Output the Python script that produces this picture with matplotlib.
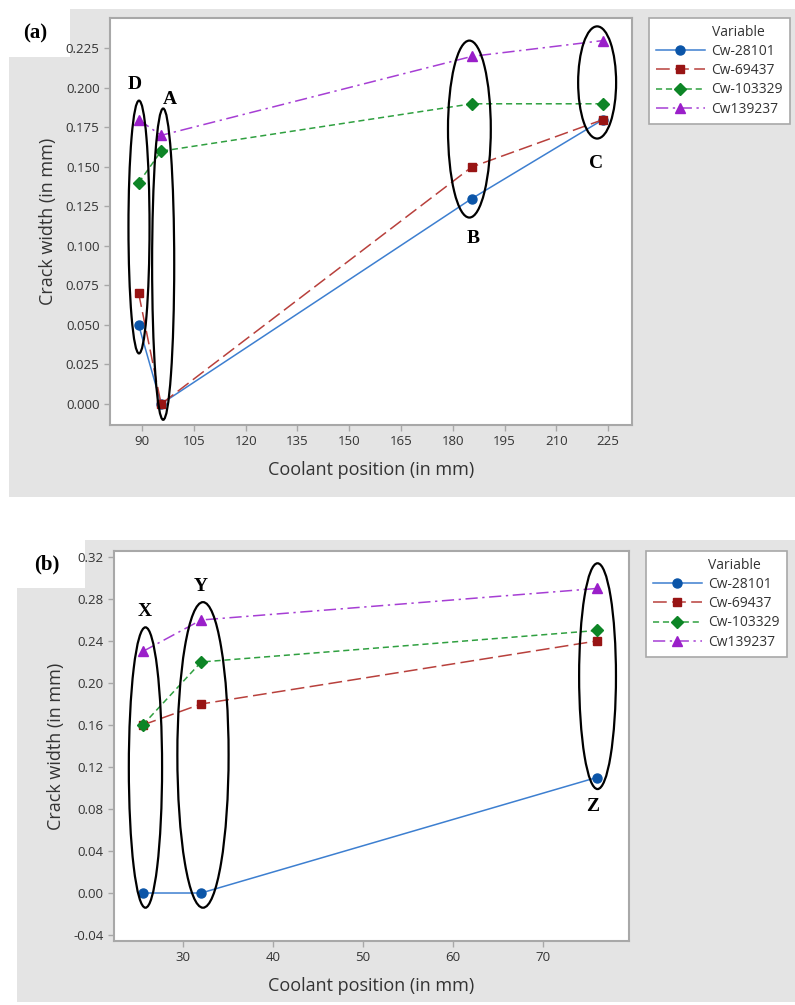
import numpy as np
import matplotlib
matplotlib.use('Agg')
import matplotlib.pyplot as plt
from matplotlib.patches import Ellipse, Rectangle
from matplotlib.lines import Line2D

plt.rcParams['font.family'] = ['Open Sans', 'DejaVu Sans']

# ---- data ----
series = ['Cw-28101', 'Cw-69437', 'Cw-103329', 'Cw139237']

pos_a = [89, 95.5, 185.5, 223.5]
cw_a = {
    'Cw-28101':  [0.05, 0.00, 0.13, 0.18],
    'Cw-69437':  [0.07, 0.00, 0.15, 0.18],
    'Cw-103329': [0.14, 0.16, 0.19, 0.19],
    'Cw139237':  [0.18, 0.17, 0.22, 0.23],
}

pos_b = [25.5, 32, 76]
cw_b = {
    'Cw-28101':  [0.00, 0.00, 0.11],
    'Cw-69437':  [0.16, 0.18, 0.24],
    'Cw-103329': [0.16, 0.22, 0.25],
    'Cw139237':  [0.23, 0.26, 0.29],
}

xticks_a = [90, 105, 120, 135, 150, 165, 180, 195, 210, 225]
yticks_a = [0.0, 0.025, 0.05, 0.075, 0.1, 0.125, 0.15, 0.175, 0.2, 0.225]
xticks_b = [30, 40, 50, 60, 70]
yticks_b = [-0.04, 0.0, 0.04, 0.08, 0.12, 0.16, 0.2, 0.24, 0.28, 0.32]

# ellipse groups: label, centre x, width, y bottom, y top, label x, label y
groups_a = [
    ('D', 89.1, 6.1, 0.032, 0.192, 88.0, 0.202),
    ('A', 96.1, 6.4, -0.010, 0.187, 98.0, 0.193),
    ('B', 184.8, 12.4, 0.118, 0.230, 186.0, 0.105),
    ('C', 221.8, 11.0, 0.168, 0.239, 221.5, 0.152),
]
groups_b = [
    ('X', 25.8, 3.7, -0.014, 0.253, 25.7, 0.268),
    ('Y', 32.2, 5.7, -0.014, 0.277, 32.0, 0.292),
    ('Z', 76.1, 4.1, 0.099, 0.314, 75.5, 0.082),
]

# ---- styles ----
styles = {
    'Cw-28101':  dict(color='#3d7fd0', mfc='#0b55a8', mec='#0b55a8', marker='o', ls='-', ms=6.5),
    'Cw-69437':  dict(color='#b8403c', mfc='#981414', mec='#981414', marker='s', ls=(0, (9, 3.5)), ms=6),
    'Cw-103329': dict(color='#2fa040', mfc='#0d8526', mec='#0d8526', marker='D', ls=(0, (4, 2.5)), ms=6),
    'Cw139237':  dict(color='#a63ed4', mfc='#9a1fc9', mec='#9a1fc9', marker='^', ls=(0, (8, 3, 1.5, 3)), ms=7),
}

W, H = 795, 1005
fig = plt.figure(figsize=(W / 100, H / 100), dpi=100)
fig.patch.set_facecolor('white')

GRAY = '#e4e4e4'


def px_rect(x0, y0, x1, y1, color):
    fig.patches.append(Rectangle((x0 / W, 1 - y1 / H), (x1 - x0) / W, (y1 - y0) / H,
                                 transform=fig.transFigure, facecolor=color,
                                 edgecolor='none', zorder=-10))


px_rect(9, 9, 795, 497, GRAY)
px_rect(17, 540, 795, 1002, GRAY)
px_rect(9, 9, 70, 57, 'white')
px_rect(17, 540, 85, 588, 'white')

fig.text(35 / W, 1 - 33 / H, '(a)', fontsize=15, fontweight='bold',
         family='Liberation Serif', ha='center', va='center')
fig.text(47 / W, 1 - 564 / H, '(b)', fontsize=15, fontweight='bold',
         family='Liberation Serif', ha='center', va='center')


def make_panel(rect, pos, data, xticks, yticks, xlim, ylim, groups, yfmt, leg_xy):
    ax = fig.add_axes(rect)
    ax.set_facecolor('white')
    for name in series:
        st = styles[name]
        ax.plot(pos, data[name], color=st['color'], linestyle=st['ls'], lw=1.1,
                marker=st['marker'], ms=st['ms'], mfc=st['mfc'], mec=st['mec'],
                label=name, zorder=3)
    ax.set_xlim(*xlim)
    ax.set_ylim(*ylim)
    ax.set_xticks(xticks)
    ax.set_yticks(yticks)
    ax.set_yticklabels([yfmt.format(v) for v in yticks])
    for s in ax.spines.values():
        s.set_color('#a8a8a8')
        s.set_linewidth(1.5)
    ax.tick_params(colors='#a8a8a8', labelcolor='#333333', labelsize=9.5, length=4, width=1)
    ax.set_xlabel('Coolant position (in mm)', fontsize=13, color='#333333', labelpad=9)
    ax.set_ylabel('Crack width (in mm)', fontsize=13, color='#333333', labelpad=6)

    for lab, cx, w, yb, yt, lx, ly in groups:
        e = Ellipse((cx, (yb + yt) / 2), w, yt - yb, facecolor='none',
                    edgecolor='black', lw=1.6, zorder=4, clip_on=False)
        ax.add_patch(e)
        ax.text(lx, ly, lab, fontsize=14, fontweight='bold', family='Liberation Serif',
                ha='center', va='center', zorder=5)

    handles, labels = ax.get_legend_handles_labels()
    # "Variable" header sits in line with the entry labels
    handles = [Line2D([], [], color='none')] + handles
    labels = ['Variable'] + labels
    leg = fig.legend(handles, labels, loc='upper left',
                     bbox_to_anchor=leg_xy, bbox_transform=fig.transFigure,
                     fontsize=10, frameon=True, fancybox=False, edgecolor='#a8a8a8',
                     facecolor='white', framealpha=1,
                     borderaxespad=0, handlelength=3.5, labelspacing=0.3,
                     borderpad=0.5, handletextpad=0.5)
    leg.get_frame().set_linewidth(1.2)
    for t in leg.get_texts():
        t.set_color('#333333')
    return ax


make_panel([110 / W, 1 - 425 / H, 522 / W, 407 / H], pos_a, cw_a, xticks_a, yticks_a,
           (80.7, 231.9), (-0.0133, 0.2443), groups_a, '{:.3f}', (649 / W, 1 - 18 / H))
make_panel([114 / W, 1 - 941 / H, 515 / W, 390 / H], pos_b, cw_b, xticks_b, yticks_b,
           (22.3, 79.6), (-0.0457, 0.3257), groups_b, '{:.2f}', (646 / W, 1 - 551 / H))

fig.savefig('out.png', dpi=100)
